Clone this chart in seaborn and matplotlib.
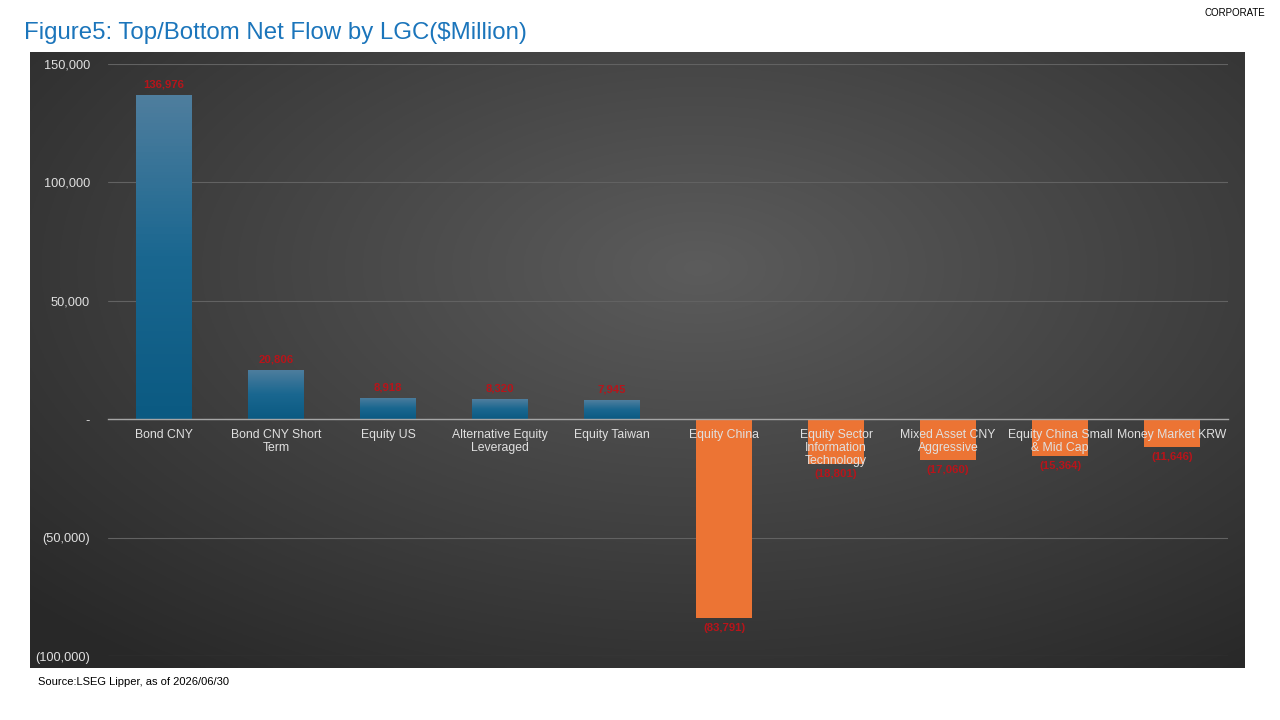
import numpy as np
import pandas as pd
import matplotlib
matplotlib.use("Agg")
import matplotlib.pyplot as plt
from matplotlib.colors import LinearSegmentedColormap
import seaborn as sns

categories = ["Bond CNY", "Bond CNY Short Term", "Equity US", "Alternative Equity Leveraged",
              "Equity Taiwan", "Equity China", "Equity Sector Information Technology",
              "Mixed Asset CNY Aggressive", "Equity China Small & Mid Cap", "Money Market KRW"]
tick_labels = ["Bond CNY", "Bond CNY Short\nTerm", "Equity US", "Alternative Equity\nLeveraged",
               "Equity Taiwan", "Equity China", "Equity Sector\nInformation\nTechnology",
               "Mixed Asset CNY\nAggressive", "Equity China Small\n& Mid Cap", "Money Market KRW"]
net_flow = [136976, 20806, 8918, 8320, 7945, -83791, -18801, -17060, -15364, -11646]
y_ticks = [-100000, -50000, 0, 50000, 100000, 150000]

sns.set_theme(style="white")
plt.rcParams['font.family'] = ['Liberation Sans', 'DejaVu Sans']

df = pd.DataFrame({"lgc": categories, "flow": net_flow})
df["side"] = np.where(df["flow"] >= 0, "in", "out")

fig = plt.figure(figsize=(12.8, 7.2), dpi=100)
fig.patch.set_facecolor("white")

# dark radial background panel
bg = fig.add_axes([30/1280, 1 - 668/720, 1215/1280, 616/720])
yy, xx = np.mgrid[0:1:300j, 0:1:600j]
r = np.sqrt(((xx - 0.55) / 0.75) ** 2 + ((yy - 0.35) / 0.8) ** 2)
shade = np.clip(0.36 - 0.2 * r, 0.16, 0.36)
bg.imshow(np.dstack([shade, shade, shade]), aspect="auto", extent=[0, 1, 1, 0])
bg.set_axis_off()

ax = fig.add_axes([108/1280, 1 - 656/720, 1120/1280, 592/720])
ax.patch.set_alpha(0)

sns.barplot(data=df, x="lgc", y="flow", hue="side", palette={"in": "#0f5e86", "out": "#ec7434"},
            width=0.5, dodge=False, legend=False, ax=ax, saturation=1,
            edgecolor="none", linewidth=0)

ax.set_ylim(-100000, 150000)
ax.set_xlim(-0.5, len(categories) - 0.5)

# vertical gradient on the positive bars
blue_cmap = LinearSegmentedColormap.from_list("bl", ["#4f7e9e", "#1a6790", "#0b5a82"])
for p in ax.patches:
    if p.get_height() > 0:
        x0, w, h = p.get_x(), p.get_width(), p.get_height()
        grad = np.linspace(0, 1, 100).reshape(-1, 1)
        im = ax.imshow(grad, cmap=blue_cmap, aspect="auto", extent=[x0, x0 + w, 0, h],
                       origin="upper", zorder=p.get_zorder())
        im.set_clip_path(p)
ax.set_xlim(-0.5, len(categories) - 0.5)
ax.set_ylim(-100000, 150000)

def acct(v):
    return f"{v:,.0f}" if v >= 0 else f"({-v:,.0f})"

for c in ax.containers:
    ax.bar_label(c, labels=[acct(v) for v in c.datavalues], padding=4,
                 color="#b8141a", fontsize=8.2, fontweight="bold")

ax.set_yticks(y_ticks)
ax.set_yticklabels(["(100,000)", "(50,000)", "-", "50,000", "100,000", "150,000"])
ax.yaxis.grid(True, color="#626262", linewidth=0.8)
ax.set_axisbelow(True)
ax.tick_params(axis="y", length=0, pad=13, labelsize=9.2, labelcolor="#e0e0e0")

ax.set_xticks(range(len(categories)))
ax.set_xticklabels(tick_labels)
ax.spines["bottom"].set_position(("data", 0))
ax.spines["bottom"].set_color("#a6a6a6")
ax.spines["bottom"].set_linewidth(1)
for s in ["top", "right", "left"]:
    ax.spines[s].set_visible(False)
ax.tick_params(axis="x", length=0, pad=7, labelsize=8.8, labelcolor="#e0e0e0")
for t in ax.get_xticklabels():
    t.set_linespacing(1.12)
ax.xaxis.set_zorder(5)
ax.spines["bottom"].set_zorder(4)
ax.set_xlabel("")
ax.set_ylabel("")

fig.text(24/1280, 1 - 33/720, "Figure5: Top/Bottom Net Flow by LGC($Million)",
         color="#1b75bb", fontsize=17.3, va="center", ha="left")
fig.text(1265/1280, 1 - 13/720, "CORPORATE", color="black", fontsize=7, va="center", ha="right")
fig.text(38/1280, 1 - 682/720, "Source:LSEG Lipper, as of 2026/06/30", color="black",
         fontsize=8, va="center", ha="left")

fig.savefig("out.png", dpi=100)
